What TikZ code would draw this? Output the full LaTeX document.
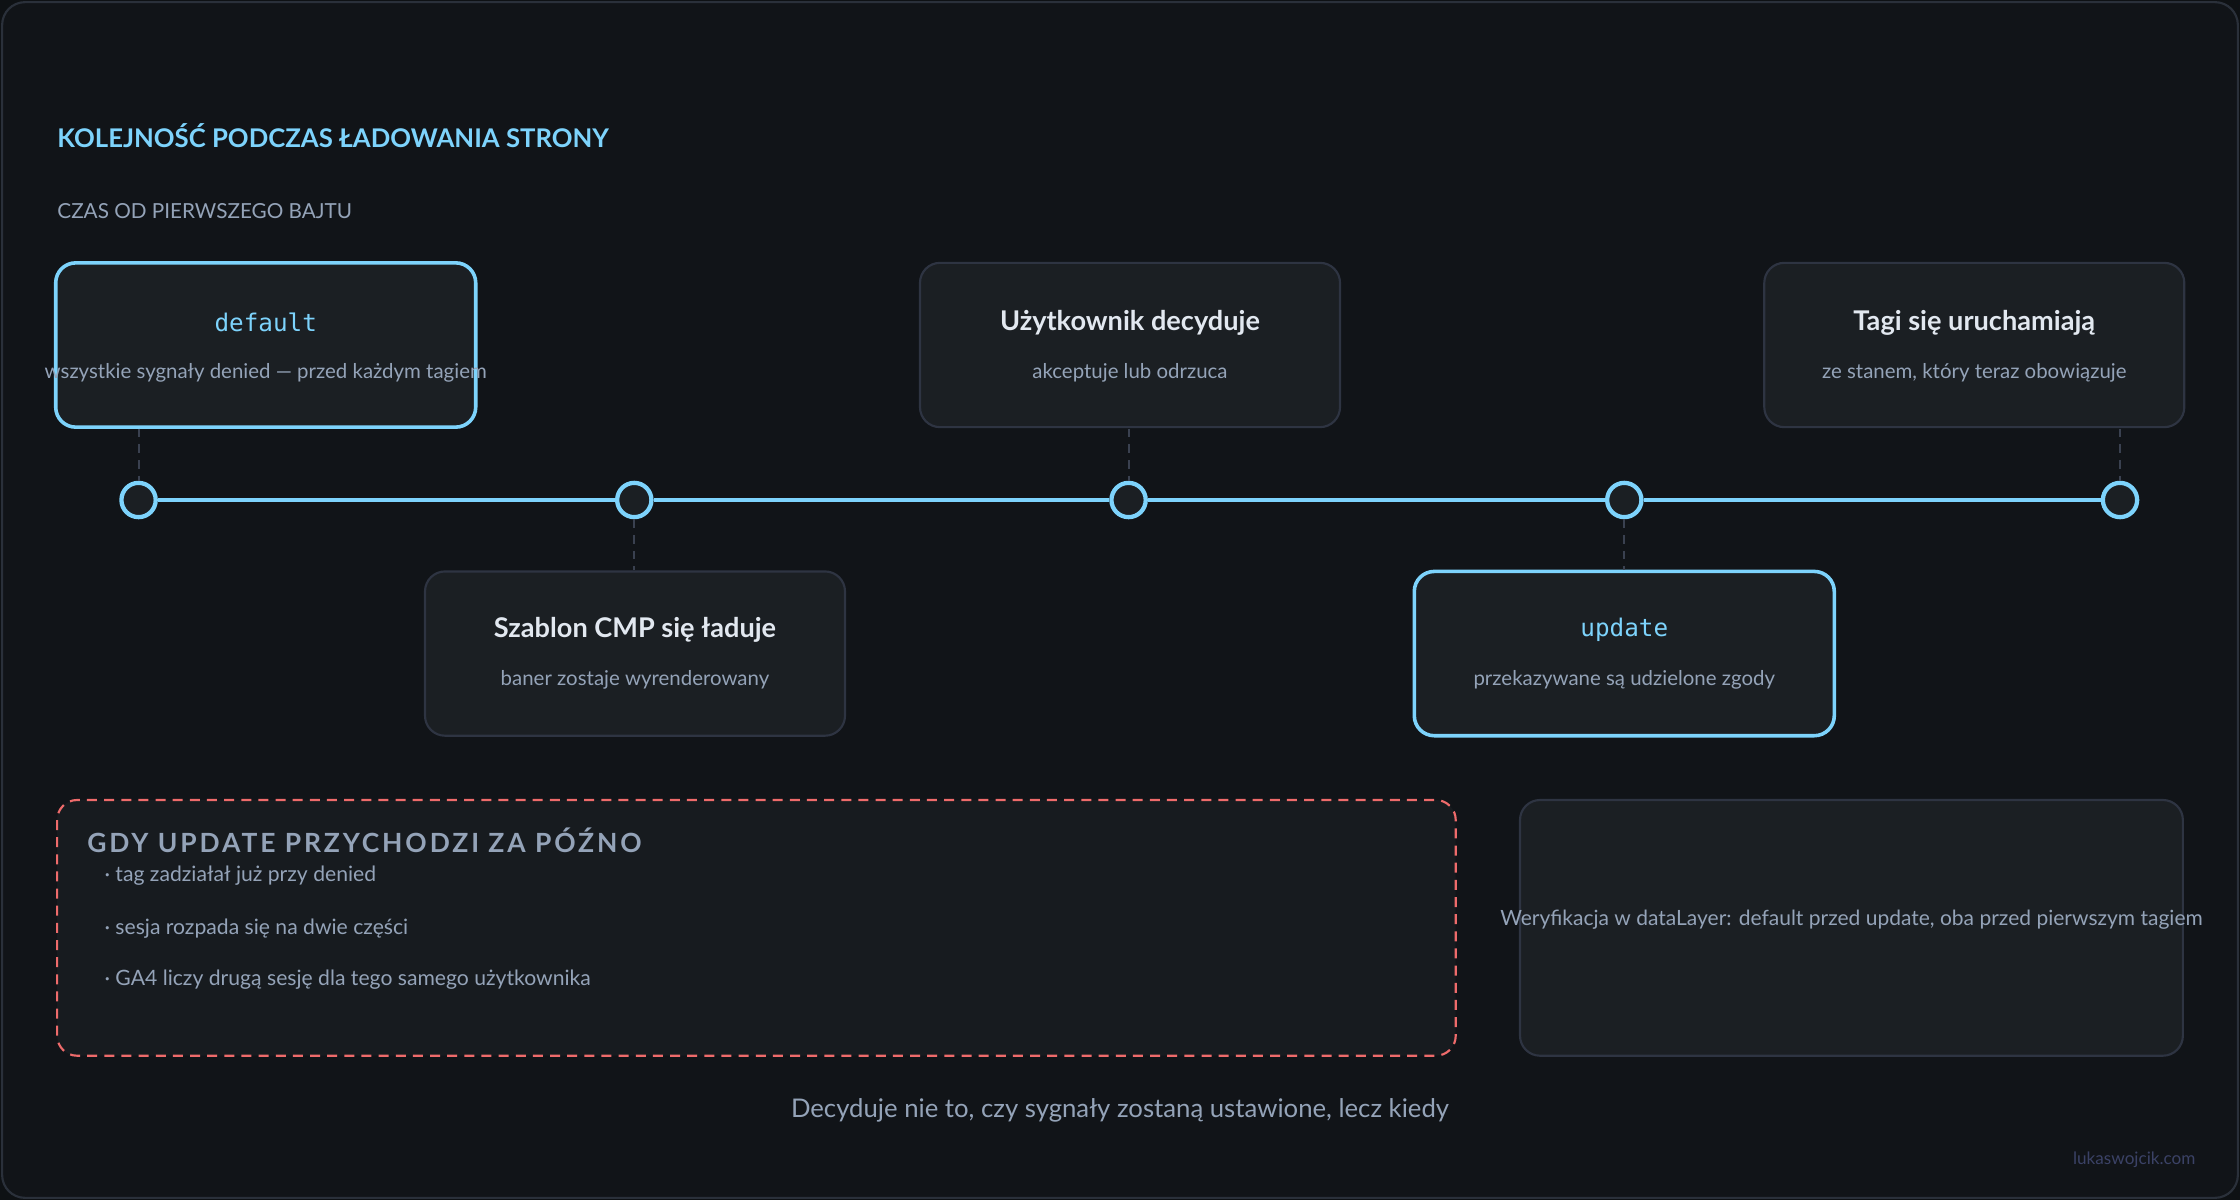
\documentclass[tikz,border=0pt]{standalone}
\usepackage{fontspec}
\setmainfont{Lato}
\setsansfont{Lato}
\setmonofont{DejaVu Sans Mono}
\newfontfamily\spacedfont[LetterSpace=11]{Lato}
\definecolor{pagebg}{HTML}{0E1114}
\definecolor{framebg}{HTML}{111418}
\definecolor{frameline}{HTML}{2A303A}
\definecolor{boxfill}{HTML}{1B1F23}
\definecolor{boxline}{HTML}{2E3442}
\definecolor{accent}{HTML}{7DD3FC}
\definecolor{muted}{HTML}{94A3B8}
\definecolor{headtext}{HTML}{E2E8F0}
\definecolor{warnred}{HTML}{EE6B6B}
\definecolor{warnfill}{HTML}{171B1F}
\definecolor{footc}{HTML}{3B4266}
\definecolor{conn}{HTML}{3A4150}
\tikzset{
  card/.style={draw=boxline, line width=1.5pt, fill=boxfill, rounded corners=14pt, minimum width=294pt, minimum height=115pt, inner sep=0pt},
  hicard/.style={card, draw=accent, line width=2.5pt},
  cardtitle/.style={font=\fontsize{19}{22}\selectfont\bfseries, text=headtext, inner sep=0pt},
  cardcode/.style={font=\fontsize{17}{20}\ttfamily, text=accent, inner sep=0pt},
  cardsub/.style={font=\fontsize{14.3}{17}\selectfont, text=muted, inner sep=0pt},
  dot/.style={circle, draw=accent, line width=3pt, fill=boxfill, minimum size=24pt, inner sep=0pt},
  tick/.style={draw=conn, line width=1.5pt, dash pattern=on 6pt off 5pt},
  axis/.style={draw=accent, line width=3pt},
  bullet/.style={font=\fontsize{14.8}{17}\selectfont, text=muted, anchor=west, inner sep=0pt}
}
\begin{document}
\begin{tikzpicture}[x=1pt,y=-1pt]
\useasboundingbox (0,0) rectangle (1568,840);
\fill[pagebg] (0,0) rectangle (1568,840);
\draw[frameline, fill=framebg, line width=1.5pt, rounded corners=16pt] (1.5,1.5) rectangle (1566.5,838.5);

% header
\node[anchor=base west, inner sep=0pt, font=\fontsize{18}{21}\selectfont\bfseries, text=accent] (title) at (40,103) {KOLEJNOŚĆ PODCZAS ŁADOWANIA STRONY};
\node[anchor=base west, inner sep=0pt, font=\fontsize{14.5}{17}\selectfont, text=muted] (subtitle) at (40,153) {CZAS OD PIERWSZEGO BAJTU};

% timeline dots
\node[dot] (d1) at (97,350) {};
\node[dot] (d2) at (444,350) {};
\node[dot] (d3) at (790,350) {};
\node[dot] (d4) at (1137,350) {};
\node[dot] (d5) at (1484,350) {};
\draw[axis] (d1) -- (d2);
\draw[axis] (d2) -- (d3);
\draw[axis] (d3) -- (d4);
\draw[axis] (d4) -- (d5);

% cards
\node[hicard] (c1) at (186,241.5) {};
\node[card] (c2) at (444.5,457.5) {};
\node[card] (c3) at (791,241.5) {};
\node[hicard] (c4) at (1137,457.5) {};
\node[card] (c5) at (1382,241.5) {};

% connectors
\coordinate (t1) at (97,300);
\coordinate (t2) at (444,399);
\coordinate (t3) at (790,300);
\coordinate (t4) at (1137,399);
\coordinate (t5) at (1484,300);
\draw[tick] (t1) -- (d1.north);
\draw[tick] (d2.south) -- (t2);
\draw[tick] (t3) -- (d3.north);
\draw[tick] (d4.south) -- (t4);
\draw[tick] (t5) -- (d5.north);

% card texts
\node[cardcode] (c1a) at (186,226) {default};
\node[cardsub] (c1b) at (186,261) {wszystkie sygnały denied — przed każdym tagiem};
\node[cardtitle] (c2a) at (444.5,441) {Szablon CMP się ładuje};
\node[cardsub] (c2b) at (444.5,476) {baner zostaje wyrenderowany};
\node[cardtitle] (c3a) at (791,226) {Użytkownik decyduje};
\node[cardsub] (c3b) at (791,261) {akceptuje lub odrzuca};
\node[cardcode] (c4a) at (1137,441) {update};
\node[cardsub] (c4b) at (1137,476) {przekazywane są udzielone zgody};
\node[cardtitle] (c5a) at (1382,226) {Tagi się uruchamiają};
\node[cardsub] (c5b) at (1382,261) {ze stanem, który teraz obowiązuje};

% warning box
\draw[warnred, fill=warnfill, line width=1.5pt, dash pattern=on 7pt off 5pt, rounded corners=14pt] (40,560) rectangle (1019,739);
\node[anchor=base west, inner sep=0pt, font=\fontsize{18.5}{21}\spacedfont\bfseries, text=muted] (warnhead) at (61,597) {GDY UPDATE PRZYCHODZI ZA PÓŹNO};
\node[bullet] (b1) at (73,613) {· tag zadziałał już przy denied};
\node[bullet] (b2) at (73,650) {· sesja rozpada się na dwie części};
\node[bullet] (b3) at (73,686) {· GA4 liczy drugą sesję dla tego samego użytkownika};

% verification box
\node[card, minimum width=464pt, minimum height=179pt] (verify) at (1296,649.5) {};
\node[cardsub, font=\fontsize{14.7}{17}\selectfont] (verifytext) at (1296,644) {Weryfikacja w dataLayer: default przed update, oba przed pierwszym tagiem};

% footer
\node[inner sep=0pt, font=\fontsize{18}{21}\selectfont, text=muted] (claim) at (784,777) {Decyduje nie to, czy sygnały zostaną ustawione, lecz kiedy};
\node[anchor=east, inner sep=0pt, font=\fontsize{12}{15}\selectfont, text=footc] (site) at (1537,812) {lukaswojcik.com};
\end{tikzpicture}
\end{document}
